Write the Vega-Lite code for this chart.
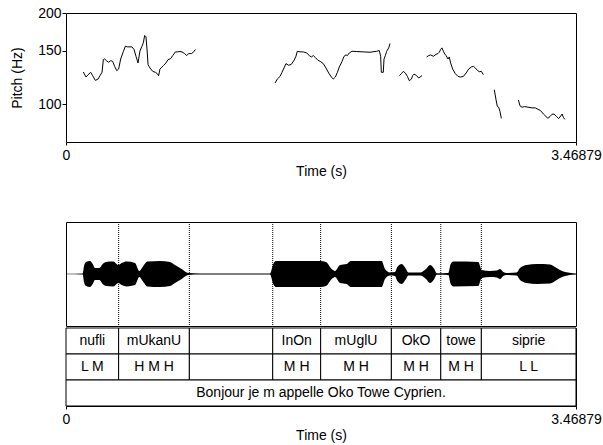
{
 "$schema": "https://vega.github.io/schema/vega-lite/v6.json",
 "background": "white",
 "padding": {"left": 10, "top": 5, "right": 5, "bottom": 5},
 "config": {
  "font": "Liberation Sans",
  "view": {"stroke": "black", "strokeWidth": 1},
  "axis": {"grid": false, "domain": false, "tickColor": "black", "labelColor": "black", "titleColor": "black", "labelFont": "Liberation Sans", "titleFont": "Liberation Sans", "labelFontSize": 14, "titleFontSize": 14, "titleFontWeight": "normal"}
 },
 "datasets": {
  "pitch": [
   {"seg":1,"t":0.118,"hz":127.7},{"seg":1,"t":0.136,"hz":122.9},{"seg":1,"t":0.150,"hz":125.1},{"seg":1,"t":0.168,"hz":127.4},{"seg":1,"t":0.181,"hz":124.2},{"seg":1,"t":0.200,"hz":119.8},{"seg":1,"t":0.218,"hz":121.0},{"seg":1,"t":0.231,"hz":124.2},{"seg":1,"t":0.245,"hz":127.4},{"seg":1,"t":0.254,"hz":140.3},{"seg":1,"t":0.263,"hz":141.0},{"seg":1,"t":0.277,"hz":138.9},{"seg":1,"t":0.290,"hz":137.5},{"seg":1,"t":0.304,"hz":139.2},{"seg":1,"t":0.317,"hz":138.5},{"seg":1,"t":0.331,"hz":133.3},{"seg":1,"t":0.345,"hz":129.0},{"seg":1,"t":0.358,"hz":130.6},{"seg":1,"t":0.372,"hz":141.0},{"seg":1,"t":0.390,"hz":149.2},{"seg":1,"t":0.404,"hz":155.4},{"seg":1,"t":0.417,"hz":154.6},{"seg":1,"t":0.435,"hz":154.6},{"seg":1,"t":0.449,"hz":154.6},{"seg":1,"t":0.463,"hz":151.5},{"seg":1,"t":0.476,"hz":143.9},{"seg":1,"t":0.490,"hz":136.8},{"seg":1,"t":0.503,"hz":149.9},{"seg":1,"t":0.517,"hz":155.4},{"seg":1,"t":0.526,"hz":159.4},{"seg":1,"t":0.535,"hz":168.6},{"seg":1,"t":0.544,"hz":166.9},{"seg":1,"t":0.553,"hz":147.6},{"seg":1,"t":0.558,"hz":135.0},{"seg":1,"t":0.571,"hz":131.7},{"seg":1,"t":0.590,"hz":128.3},{"seg":1,"t":0.608,"hz":127.4},{"seg":1,"t":0.621,"hz":126.1},{"seg":1,"t":0.630,"hz":124.2},{"seg":1,"t":0.639,"hz":130.6},{"seg":1,"t":0.662,"hz":134.0},{"seg":1,"t":0.680,"hz":136.8},{"seg":1,"t":0.694,"hz":140.3},{"seg":1,"t":0.712,"hz":141.4},{"seg":1,"t":0.726,"hz":144.7},{"seg":1,"t":0.744,"hz":148.8},{"seg":1,"t":0.757,"hz":148.8},{"seg":1,"t":0.775,"hz":149.2},{"seg":1,"t":0.789,"hz":148.8},{"seg":1,"t":0.807,"hz":146.9},{"seg":1,"t":0.821,"hz":144.7},{"seg":1,"t":0.834,"hz":146.9},{"seg":1,"t":0.853,"hz":146.9},{"seg":1,"t":0.866,"hz":148.4},{"seg":1,"t":0.880,"hz":151.5},
   {"seg":2,"t":1.422,"hz":117.4},{"seg":2,"t":1.437,"hz":121.0},{"seg":2,"t":1.456,"hz":123.5},{"seg":2,"t":1.469,"hz":127.4},{"seg":2,"t":1.483,"hz":131.7},{"seg":2,"t":1.496,"hz":136.1},{"seg":2,"t":1.515,"hz":134.4},{"seg":2,"t":1.533,"hz":135.4},{"seg":2,"t":1.551,"hz":139.6},{"seg":2,"t":1.564,"hz":143.9},{"seg":2,"t":1.573,"hz":149.5},{"seg":2,"t":1.592,"hz":148.8},{"seg":2,"t":1.614,"hz":148.8},{"seg":2,"t":1.637,"hz":147.6},{"seg":2,"t":1.655,"hz":144.7},{"seg":2,"t":1.669,"hz":143.2},{"seg":2,"t":1.682,"hz":144.7},{"seg":2,"t":1.696,"hz":142.5},{"seg":2,"t":1.714,"hz":139.6},{"seg":2,"t":1.732,"hz":138.2},{"seg":2,"t":1.750,"hz":136.1},{"seg":2,"t":1.768,"hz":131.7},{"seg":2,"t":1.787,"hz":126.7},{"seg":2,"t":1.805,"hz":122.9},{"seg":2,"t":1.818,"hz":121.0},{"seg":2,"t":1.832,"hz":122.9},{"seg":2,"t":1.846,"hz":127.4},{"seg":2,"t":1.859,"hz":132.7},{"seg":2,"t":1.877,"hz":138.2},{"seg":2,"t":1.891,"hz":143.9},{"seg":2,"t":1.904,"hz":145.4},{"seg":2,"t":1.914,"hz":144.7},{"seg":2,"t":1.927,"hz":147.6},{"seg":2,"t":1.945,"hz":149.5},{"seg":2,"t":1.977,"hz":149.2},{"seg":2,"t":2.022,"hz":148.8},{"seg":2,"t":2.068,"hz":148.4},{"seg":2,"t":2.113,"hz":149.5},{"seg":2,"t":2.131,"hz":150.3},{"seg":2,"t":2.140,"hz":143.9},{"seg":2,"t":2.145,"hz":127.4},{"seg":2,"t":2.158,"hz":127.4},{"seg":2,"t":2.163,"hz":141.0},{"seg":2,"t":2.172,"hz":144.7},{"seg":2,"t":2.181,"hz":149.5},{"seg":2,"t":2.195,"hz":153.4},{"seg":2,"t":2.204,"hz":158.6},
   {"seg":3,"t":2.267,"hz":124.2},{"seg":3,"t":2.281,"hz":126.1},{"seg":3,"t":2.294,"hz":128.3},{"seg":3,"t":2.308,"hz":126.7},{"seg":3,"t":2.322,"hz":123.5},{"seg":3,"t":2.335,"hz":119.5},{"seg":3,"t":2.349,"hz":121.0},{"seg":3,"t":2.358,"hz":124.2},{"seg":3,"t":2.367,"hz":125.7},{"seg":3,"t":2.385,"hz":124.2},{"seg":3,"t":2.399,"hz":122.0},{"seg":3,"t":2.408,"hz":122.9},{"seg":3,"t":2.421,"hz":124.2},
   {"seg":4,"t":2.453,"hz":143.2},{"seg":4,"t":2.467,"hz":144.7},{"seg":4,"t":2.480,"hz":145.4},{"seg":4,"t":2.499,"hz":143.9},{"seg":4,"t":2.517,"hz":146.1},{"seg":4,"t":2.530,"hz":146.9},{"seg":4,"t":2.539,"hz":148.4},{"seg":4,"t":2.548,"hz":151.5},{"seg":4,"t":2.557,"hz":153.4},{"seg":4,"t":2.567,"hz":149.5},{"seg":4,"t":2.576,"hz":146.5},{"seg":4,"t":2.585,"hz":144.7},{"seg":4,"t":2.598,"hz":141.0},{"seg":4,"t":2.607,"hz":143.2},{"seg":4,"t":2.616,"hz":136.8},{"seg":4,"t":2.630,"hz":130.6},{"seg":4,"t":2.648,"hz":126.1},{"seg":4,"t":2.666,"hz":123.5},{"seg":4,"t":2.684,"hz":122.9},{"seg":4,"t":2.703,"hz":123.5},{"seg":4,"t":2.721,"hz":126.7},{"seg":4,"t":2.739,"hz":130.6},{"seg":4,"t":2.757,"hz":132.7},{"seg":4,"t":2.771,"hz":133.3},{"seg":4,"t":2.784,"hz":131.7},{"seg":4,"t":2.798,"hz":129.3},{"seg":4,"t":2.811,"hz":128.0},{"seg":4,"t":2.825,"hz":128.3},{"seg":4,"t":2.839,"hz":125.1},
   {"seg":5,"t":2.913,"hz":111.6},{"seg":5,"t":2.925,"hz":103.3},{"seg":5,"t":2.934,"hz":98.2},{"seg":5,"t":2.943,"hz":97.7},{"seg":5,"t":2.952,"hz":94.5},{"seg":5,"t":2.961,"hz":89.8},
   {"seg":6,"t":3.077,"hz":103.3},{"seg":6,"t":3.088,"hz":98.7},{"seg":6,"t":3.102,"hz":97.7},{"seg":6,"t":3.120,"hz":98.2},{"seg":6,"t":3.142,"hz":97.7},{"seg":6,"t":3.170,"hz":97.2},{"seg":6,"t":3.192,"hz":97.2},{"seg":6,"t":3.210,"hz":96.2},{"seg":6,"t":3.228,"hz":95.2},{"seg":6,"t":3.247,"hz":92.8},{"seg":6,"t":3.265,"hz":91.0},{"seg":6,"t":3.278,"hz":89.8},{"seg":6,"t":3.292,"hz":91.0},{"seg":6,"t":3.306,"hz":92.6},{"seg":6,"t":3.319,"hz":92.8},{"seg":6,"t":3.337,"hz":91.0},{"seg":6,"t":3.351,"hz":89.6},{"seg":6,"t":3.365,"hz":91.4},{"seg":6,"t":3.374,"hz":92.8},{"seg":6,"t":3.383,"hz":90.5},{"seg":6,"t":3.392,"hz":89.1}
  ],
  "wave": [
   {"t":0,"hi":0.006,"lo":-0.006},{"t":0.1136,"hi":0.0096,"lo":-0.0096},{"t":0.1224,"hi":0.154,"lo":-0.154},{"t":0.136,"hi":0.231,"lo":-0.231},{"t":0.1632,"hi":0.25,"lo":-0.25},{"t":0.1816,"hi":0.192,"lo":-0.192},{"t":0.1972,"hi":0.115,"lo":-0.115},{"t":0.2265,"hi":0.115,"lo":-0.115},{"t":0.2496,"hi":0.192,"lo":-0.192},{"t":0.2721,"hi":0.231,"lo":-0.231},{"t":0.3217,"hi":0.24,"lo":-0.24},{"t":0.3557,"hi":0.173,"lo":-0.173},{"t":0.3789,"hi":0.212,"lo":-0.212},{"t":0.4129,"hi":0.24,"lo":-0.24},{"t":0.4693,"hi":0.212,"lo":-0.212},{"t":0.4986,"hi":0.058,"lo":-0.058},{"t":0.5258,"hi":0.154,"lo":-0.154},{"t":0.553,"hi":0.24,"lo":-0.24},{"t":0.6394,"hi":0.25,"lo":-0.25},{"t":0.7074,"hi":0.231,"lo":-0.231},{"t":0.7414,"hi":0.173,"lo":-0.173},{"t":0.787,"hi":0.096,"lo":-0.096},{"t":0.8318,"hi":0.019,"lo":-0.019},{"t":0.9114,"hi":0.0096,"lo":-0.0096},{"t":1.3875,"hi":0.0096,"lo":-0.0096},{"t":1.41,"hi":0.192,"lo":-0.192},{"t":1.4283,"hi":0.25,"lo":-0.25},{"t":1.7276,"hi":0.25,"lo":-0.25},{"t":1.7684,"hi":0.231,"lo":-0.231},{"t":1.8072,"hi":0.096,"lo":-0.096},{"t":1.8296,"hi":0.058,"lo":-0.058},{"t":1.8636,"hi":0.173,"lo":-0.173},{"t":1.9092,"hi":0.192,"lo":-0.192},{"t":1.9364,"hi":0.25,"lo":-0.25},{"t":2.1473,"hi":0.25,"lo":-0.25},{"t":2.1697,"hi":0.096,"lo":-0.096},{"t":2.2037,"hi":0.029,"lo":-0.029},{"t":2.2377,"hi":0.038,"lo":-0.038},{"t":2.2534,"hi":0.135,"lo":-0.135},{"t":2.2833,"hi":0.192,"lo":-0.192},{"t":2.3125,"hi":0.096,"lo":-0.096},{"t":2.3282,"hi":0.029,"lo":-0.029},{"t":2.4078,"hi":0.029,"lo":-0.029},{"t":2.4486,"hi":0.096,"lo":-0.096},{"t":2.4758,"hi":0.173,"lo":-0.173},{"t":2.505,"hi":0.096,"lo":-0.096},{"t":2.5213,"hi":0.015,"lo":-0.015},{"t":2.6002,"hi":0.019,"lo":-0.019},{"t":2.6166,"hi":0.192,"lo":-0.192},{"t":2.6343,"hi":0.24,"lo":-0.24},{"t":2.8043,"hi":0.231,"lo":-0.231},{"t":2.8274,"hi":0.077,"lo":-0.077},{"t":2.8839,"hi":0.058,"lo":-0.058},{"t":2.9294,"hi":0.067,"lo":-0.067},{"t":2.9519,"hi":0.096,"lo":-0.096},{"t":2.9743,"hi":0.038,"lo":-0.038},{"t":2.9975,"hi":0.019,"lo":-0.019},{"t":3.0655,"hi":0.029,"lo":-0.029},{"t":3.0879,"hi":0.115,"lo":-0.115},{"t":3.1335,"hi":0.173,"lo":-0.173},{"t":3.2015,"hi":0.192,"lo":-0.192},{"t":3.292,"hi":0.183,"lo":-0.183},{"t":3.3375,"hi":0.115,"lo":-0.115},{"t":3.3824,"hi":0.048,"lo":-0.048},{"t":3.46879,"hi":0.0096,"lo":-0.0096}
  ],
  "tiers": [
   {"id":"w1","tier":"words","start":0,"end":0.358,"label":"nufli"},
   {"id":"w2","tier":"words","start":0.358,"end":0.839,"label":"mUkanU"},
   {"id":"w3","tier":"words","start":0.839,"end":1.406,"label":""},
   {"id":"w4","tier":"words","start":1.406,"end":1.732,"label":"InOn"},
   {"id":"w5","tier":"words","start":1.732,"end":2.213,"label":"mUglU"},
   {"id":"w6","tier":"words","start":2.213,"end":2.549,"label":"OkO"},
   {"id":"w7","tier":"words","start":2.549,"end":2.825,"label":"towe"},
   {"id":"w8","tier":"words","start":2.825,"end":3.46879,"label":"siprie"},
   {"id":"t1","tier":"tones","start":0,"end":0.358,"label":"L M"},
   {"id":"t2","tier":"tones","start":0.358,"end":0.839,"label":"H M H"},
   {"id":"t3","tier":"tones","start":0.839,"end":1.406,"label":""},
   {"id":"t4","tier":"tones","start":1.406,"end":1.732,"label":"M H"},
   {"id":"t5","tier":"tones","start":1.732,"end":2.213,"label":"M H"},
   {"id":"t6","tier":"tones","start":2.213,"end":2.549,"label":"M H"},
   {"id":"t7","tier":"tones","start":2.549,"end":2.825,"label":"M H"},
   {"id":"t8","tier":"tones","start":2.825,"end":3.46879,"label":"L L"},
   {"id":"s1","tier":"sentence","start":0,"end":3.46879,"label":"Bonjour je m appelle Oko Towe Cyprien."}
  ]
 },
 "spacing": 42,
 "vconcat": [
  {
   "width": 510, "height": 129,
   "data": {"name": "pitch"},
   "mark": {"type": "line", "color": "black", "strokeWidth": 1},
   "encoding": {
    "x": {"field": "t", "type": "quantitative", "scale": {"domain": [0, 3.46879], "nice": false, "zero": false},
          "axis": {"values": [0, 3.46879], "labelExpr": "datum.value + ''", "title": "Time (s)", "tickSize": 3, "labelPadding": 3, "titlePadding": 2, "labelFlush": false}},
    "y": {"field": "hz", "type": "quantitative", "scale": {"type": "log", "domain": [75, 200], "nice": false},
          "axis": {"values": [100, 150, 200], "title": "Pitch (Hz)", "tickSize": 4, "labelPadding": 1, "titlePadding": 13}},
    "detail": {"field": "seg"}
   }
  },
  {
   "spacing": 0,
   "vconcat": [
    {
     "width": 510, "height": 104,
     "layer": [
      {
       "data": {"name": "wave"},
       "mark": {"type": "area", "color": "black", "interpolate": "monotone"},
       "encoding": {
        "x": {"field": "t", "type": "quantitative", "scale": {"domain": [0, 3.46879], "nice": false, "zero": false}, "axis": null},
        "y": {"field": "hi", "type": "quantitative", "scale": {"domain": [-1, 1], "nice": false}, "axis": null},
        "y2": {"field": "lo"}
       }
      },
      {
       "data": {"name": "tiers"},
       "transform": [{"filter": "datum.tier == 'words' && datum.start > 0"}],
       "mark": {"type": "rule", "color": "black", "strokeDash": [1, 1], "strokeWidth": 1},
       "encoding": {"x": {"field": "start", "type": "quantitative"}}
      }
     ]
    },
    {
     "width": 510, "height": 78,
     "data": {"name": "tiers"},
     "layer": [
      {
       "mark": {"type": "rect", "fill": "white", "stroke": "black", "strokeWidth": 1},
       "encoding": {
        "x": {"field": "start", "type": "quantitative", "scale": {"domain": [0, 3.46879], "nice": false, "zero": false},
              "axis": {"values": [0, 3.46879], "labelExpr": "datum.value + ''", "title": "Time (s)", "tickSize": 3, "labelPadding": 3, "titlePadding": 2, "labelFlush": false}},
        "x2": {"field": "end"},
        "y": {"field": "tier", "type": "nominal", "scale": {"domain": ["words", "tones", "sentence"], "paddingInner": 0, "paddingOuter": 0}, "axis": null}
       }
      },
      {
       "transform": [{"fold": ["start", "end"], "as": ["edge", "time"]}],
       "mark": {"type": "text", "fontSize": 14, "color": "black", "font": "Liberation Sans"},
       "encoding": {
        "x": {"aggregate": "mean", "field": "time", "type": "quantitative", "title": "Time (s)"},
        "y": {"field": "tier", "type": "nominal"},
        "text": {"field": "label"},
        "detail": {"field": "id"}
       }
      }
     ]
    }
   ]
  }
 ]
}
